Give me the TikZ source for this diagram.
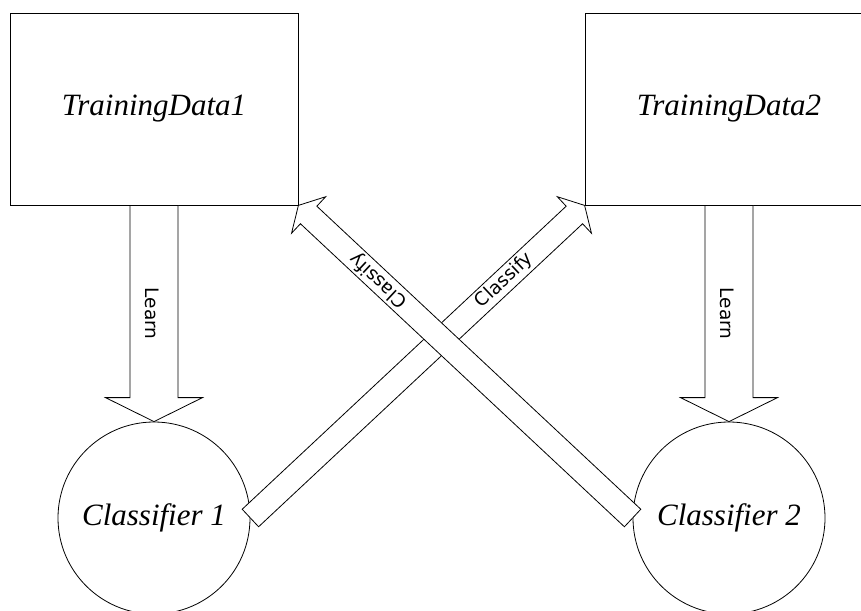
\documentclass[tikz,border=0pt]{standalone}
\usepackage{fontspec}
\setmainfont{Liberation Serif}
\newfontfamily\lblfont{DejaVu Sans}
\usetikzlibrary{calc}
\tikzset{
  databox/.style={draw, line width=0.8pt, minimum width=288pt, minimum height=192pt,
    inner sep=0pt, font=\fontsize{31}{36}\selectfont\itshape},
  clsnode/.style={draw, circle, line width=0.8pt, minimum size=192pt, inner sep=0pt,
    font=\fontsize{31}{36}\selectfont\itshape},
  blockarrow/.style={draw, fill=white, line width=0.8pt, line join=miter},
  arrowlabel/.style={sloped, allow upside down, inner sep=0pt,
    font=\lblfont\fontsize{18.5}{22}\selectfont},
}
% #1 tail, #2 tip, #3 half shaft width, #4 half head width, #5 head length
\newcommand{\drawblockarrow}[5]{%
  \coordinate (ba-h) at ($(#2)!#5!(#1)$);
  \draw[blockarrow] ($(#1)!#3!90:(#2)$) -- ($(ba-h)!#3!90:(#2)$) -- ($(ba-h)!#4!90:(#2)$)
    -- (#2) -- ($(ba-h)!#4!-90:(#2)$) -- ($(ba-h)!#3!-90:(#2)$) -- ($(#1)!#3!-90:(#2)$) -- cycle;
}
\begin{document}
\begin{tikzpicture}[x=1pt, y=-1pt]
\useasboundingbox (0,0) rectangle (861,610);
\clip (0,0) rectangle (861,610);
\fill[white] (0,0) rectangle (861,610);

\node[databox] (td1) at (154,109) {TrainingData1};
\node[databox] (td2) at (729,109) {TrainingData2};
\node[clsnode] (c1) at (154,518) {Classifier 1};
\node[clsnode] (c2) at (729,518) {Classifier 2};

% Learn arrows
\drawblockarrow{td1.south}{c1.north}{24pt}{48.5pt}{24pt}
\path (td1.south) -- node[arrowlabel, pos=0.5, yshift=-2pt] {Learn} (c1.north);
\drawblockarrow{td2.south}{c2.north}{24pt}{48.5pt}{24pt}
\path (td2.south) -- node[arrowlabel, pos=0.5, yshift=-2pt] {Learn} (c2.north);

% Classify arrows
\drawblockarrow{c1.east}{td2.south west}{12pt}{25pt}{14pt}
\path (c1.east) -- node[arrowlabel, pos=0.76] {Classify} (td2.south west);
\drawblockarrow{c2.west}{td1.south east}{12pt}{25pt}{14pt}
\path (c2.west) -- node[arrowlabel, pos=0.76] {Classify} (td1.south east);
\end{tikzpicture}
\end{document}
